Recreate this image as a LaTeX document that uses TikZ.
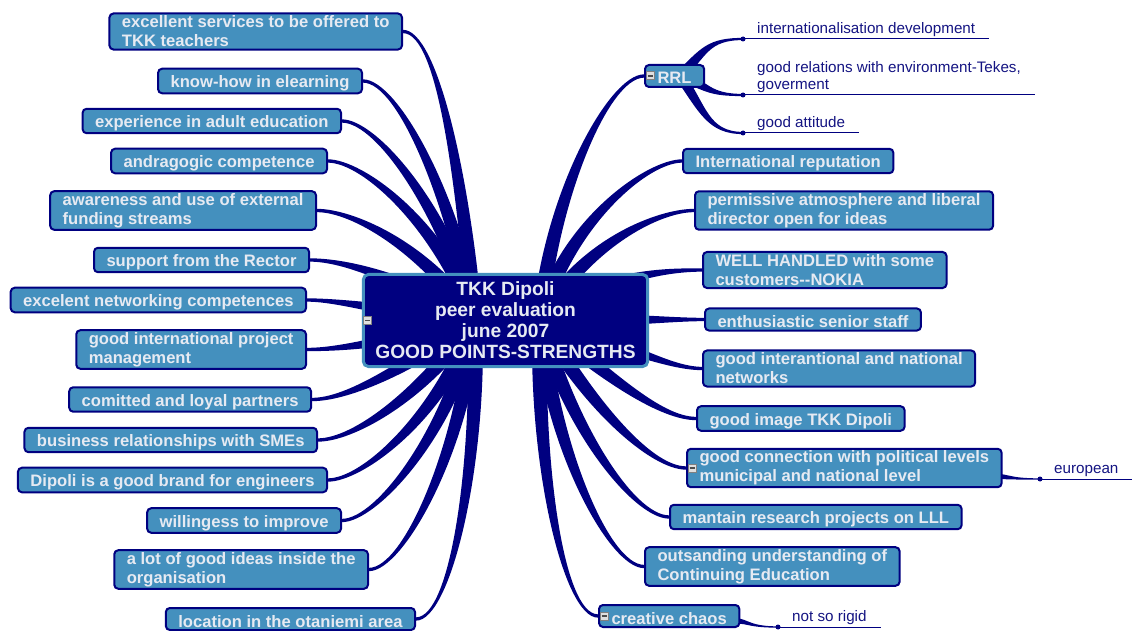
\documentclass[tikz,border=0pt]{standalone}
\usepackage{fontspec}
\setmainfont{Liberation Sans}
\usepackage{tikz}
\usetikzlibrary{calc,backgrounds}
\definecolor{navy}{RGB}{0,0,128}
\definecolor{topicblue}{RGB}{68,144,190}
\definecolor{topictext}{RGB}{230,234,242}
\definecolor{leafblue}{RGB}{20,20,130}
\newcommand{\tstrut}{\rule[-1pt]{0pt}{18pt}}
\newcommand{\cstrut}{\rule{0pt}{25pt}}
% tapered branch: out angle, child, hub, in angle, half width at hub
\newcommand{\branch}[5]{%
  \fill[branchfill] ($(#2)+({#1+90}:{#5/4.5})$)
    to[out=#1,in=#4,out distance=35pt,in looseness=1.2] ($(#3)+({#4-90}:#5)$)
    -- ($(#3)+({#4+90}:#5)$)
    to[out=#4,in=#1,in distance=35pt,out looseness=1.2] ($(#2)+({#1-90}:{#5/4.5})$) -- cycle;}

\begin{document}
\begin{tikzpicture}[x=1pt,y=1pt]
  \tikzstyle{topic} = [rectangle, rounded corners=4pt, draw=navy, line width=2pt,
    fill=topicblue, text=topictext, font=\fontsize{16.6}{19}\selectfont\bfseries,
    align=left, inner xsep=12.5pt, inner ysep=2pt,
    execute at begin node=\tstrut, execute at end node=\tstrut]
  \tikzstyle{root} = [rectangle, rounded corners=5pt, draw=topicblue, line width=3pt,
    fill=navy, text=topictext, font=\fontsize{19.2}{21}\selectfont\bfseries,
    align=center, inner xsep=12pt, inner ysep=0pt, minimum height=92pt,
    execute at begin node=\cstrut]
  \tikzstyle{leaf} = [anchor=south west, text=leafblue, font=\fontsize{15.2}{17}\selectfont,
    align=left, inner xsep=14pt, inner ysep=2pt]
  \tikzstyle{leafline} = [draw=navy, line width=1pt]
  \tikzstyle{leafdot} = [circle, fill=navy, inner sep=0pt, minimum size=5pt]
  \tikzstyle{branchfill} = [fill=navy]
  \tikzstyle{fold} = [rectangle, draw=gray, fill=gray!25, line width=1pt,
    minimum size=8pt, inner sep=0pt,
    path picture={\draw[gray!60!black, line width=1.6pt]
      ([xshift=-2.5pt]path picture bounding box.center) --
      ([xshift=2.5pt]path picture bounding box.center);}]

  \useasboundingbox (0,0) rectangle (1132,630);

  \node[root] (tkk) at (505.5,309.5) {TKK Dipoli\\peer evaluation\\june 2007\\GOOD POINTS-STRENGTHS};

  % left side
  \node[topic, anchor=east] (l1) at (403,598.5) {excellent services to be offered to\\TKK teachers};
  \node[topic, anchor=east] (l2) at (363,549) {know-how in elearning};
  \node[topic, anchor=east] (l3) at (342,509) {experience in adult education};
  \node[topic, anchor=east] (l4) at (328,469) {andragogic competence};
  \node[topic, anchor=east] (l5) at (317,419.5) {awareness and use of external\\funding streams};
  \node[topic, anchor=east] (l6) at (310,370) {support from the Rector};
  \node[topic, anchor=east] (l7) at (307,330) {excelent networking competences};
  \node[topic, anchor=east] (l8) at (307,280.5) {good international project\\management};
  \node[topic, anchor=east] (l9) at (312,230.5) {comitted and loyal partners};
  \node[topic, anchor=east] (l10) at (318,190) {business relationships with SMEs};
  \node[topic, anchor=east] (l11) at (328,150) {Dipoli is a good brand for engineers};
  \node[topic, anchor=east] (l12) at (342,109.5) {willingess to improve};
  \node[topic, anchor=east] (l13) at (369,60.5) {a lot of good ideas inside the\\organisation};
  \node[topic, anchor=east] (l14) at (416,11) {location in the otaniemi area};

  % right side
  \node[topic, anchor=west] (rrl) at (644,554) {RRL};
  \node[topic, anchor=west] (r1) at (682,469) {International reputation};
  \node[topic, anchor=west] (r2) at (694,419.5) {permissive atmosphere and liberal\\director open for ideas};
  \node[topic, anchor=west] (r3) at (702,360) {WELL HANDLED with some\\customers-\kern0pt-NOKIA};
  \node[topic, anchor=west] (r4) at (704,310.5) {enthusiastic senior staff};
  \node[topic, anchor=west] (r5) at (702,261.5) {good interantional and national\\networks};
  \node[topic, anchor=west] (r6) at (696,211.5) {good image TKK Dipoli};
  \node[topic, anchor=west] (r7) at (686,162) {good connection with political levels\\municipal and national level};
  \node[topic, anchor=west] (r8) at (669,113) {mantain research projects on LLL};
  \node[topic, anchor=west] (r9) at (644,63.5) {outsanding understanding of\\Continuing Education};
  \node[topic, anchor=west] (r10) at (598,14) {creative chaos};

  % fold markers
  \node[fold] (f0) at ($(tkk.west)+(6,0)$) {};
  \node[fold] (f1) at ($(rrl.west)+(6,0)$) {};
  \node[fold] (f2) at ($(r7.west)+(6,0)$) {};
  \node[fold] (f3) at ($(r10.west)+(6,0)$) {};

  % leaves
  \node[leafdot] (d1) at (743,591) {};
  \node[leafdot] (d2) at (743,535) {};
  \node[leafdot] (d3) at (743,497) {};
  \node[leafdot] (d4) at (1040,151) {};
  \node[leafdot] (d5) at (778,3) {};
  \node[leaf] (t1) at (d1.center) {internationalisation development};
  \node[leaf] (t2) at (d2.center) {good relations with environment-Tekes,\\goverment};
  \node[leaf] (t3) at (d3.center) {good attitude};
  \node[leaf] (t4) at (d4.center) {european};
  \node[leaf] (t5) at (d5.center) {not so rigid};
  \foreach \t in {t1,t2,t3,t4,t5}
    \draw[leafline] (\t.south west) -- (\t.south east);

  \coordinate (lh) at (475,310);
  \coordinate (rh) at (540,310);
  \coordinate (rrlh) at (680,554);
  \coordinate (r7h) at (985,154);
  \coordinate (r10h) at (725,9);

  % connections
  \begin{scope}[on background layer]
    \branch{0}{l1.east}{lh}{95}{7.5}
    \branch{0}{l2.east}{lh}{100}{7.5}
    \branch{0}{l3.east}{lh}{105}{7.5}
    \branch{0}{l4.east}{lh}{110}{7.5}
    \branch{0}{l5.east}{lh}{125}{7.5}
    \branch{0}{l6.east}{lh}{150}{7.5}
    \branch{0}{l7.east}{lh}{175}{7.5}
    \branch{0}{l8.east}{lh}{195}{7.5}
    \branch{0}{l9.east}{lh}{215}{7.5}
    \branch{0}{l10.east}{lh}{235}{7.5}
    \branch{0}{l11.east}{lh}{250}{7.5}
    \branch{0}{l12.east}{lh}{258}{7.5}
    \branch{0}{l13.east}{lh}{265}{7.5}
    \branch{0}{l14.east}{lh}{272}{7.5}

    \branch{180}{rrl.west}{rh}{85}{7.5}
    \branch{180}{r1.west}{rh}{75}{7.5}
    \branch{180}{r2.west}{rh}{60}{7.5}
    \branch{180}{r3.west}{rh}{35}{7.5}
    \branch{180}{r4.west}{rh}{0}{7.5}
    \branch{180}{r5.west}{rh}{-15}{7.5}
    \branch{180}{r6.west}{rh}{-40}{7.5}
    \branch{180}{r7.west}{rh}{-60}{7.5}
    \branch{180}{r8.west}{rh}{-75}{7.5}
    \branch{180}{r9.west}{rh}{-85}{7.5}
    \branch{180}{r10.west}{rh}{-92}{7.5}

    \branch{180}{d1.center}{rrlh}{45}{5}
    \branch{180}{d2.center}{rrlh}{-20}{5}
    \branch{180}{d3.center}{rrlh}{-55}{5}
    \branch{180}{d4.center}{r7h}{0}{3}
    \branch{180}{d5.center}{r10h}{5}{3}
  \end{scope}
\end{tikzpicture}
\end{document}
